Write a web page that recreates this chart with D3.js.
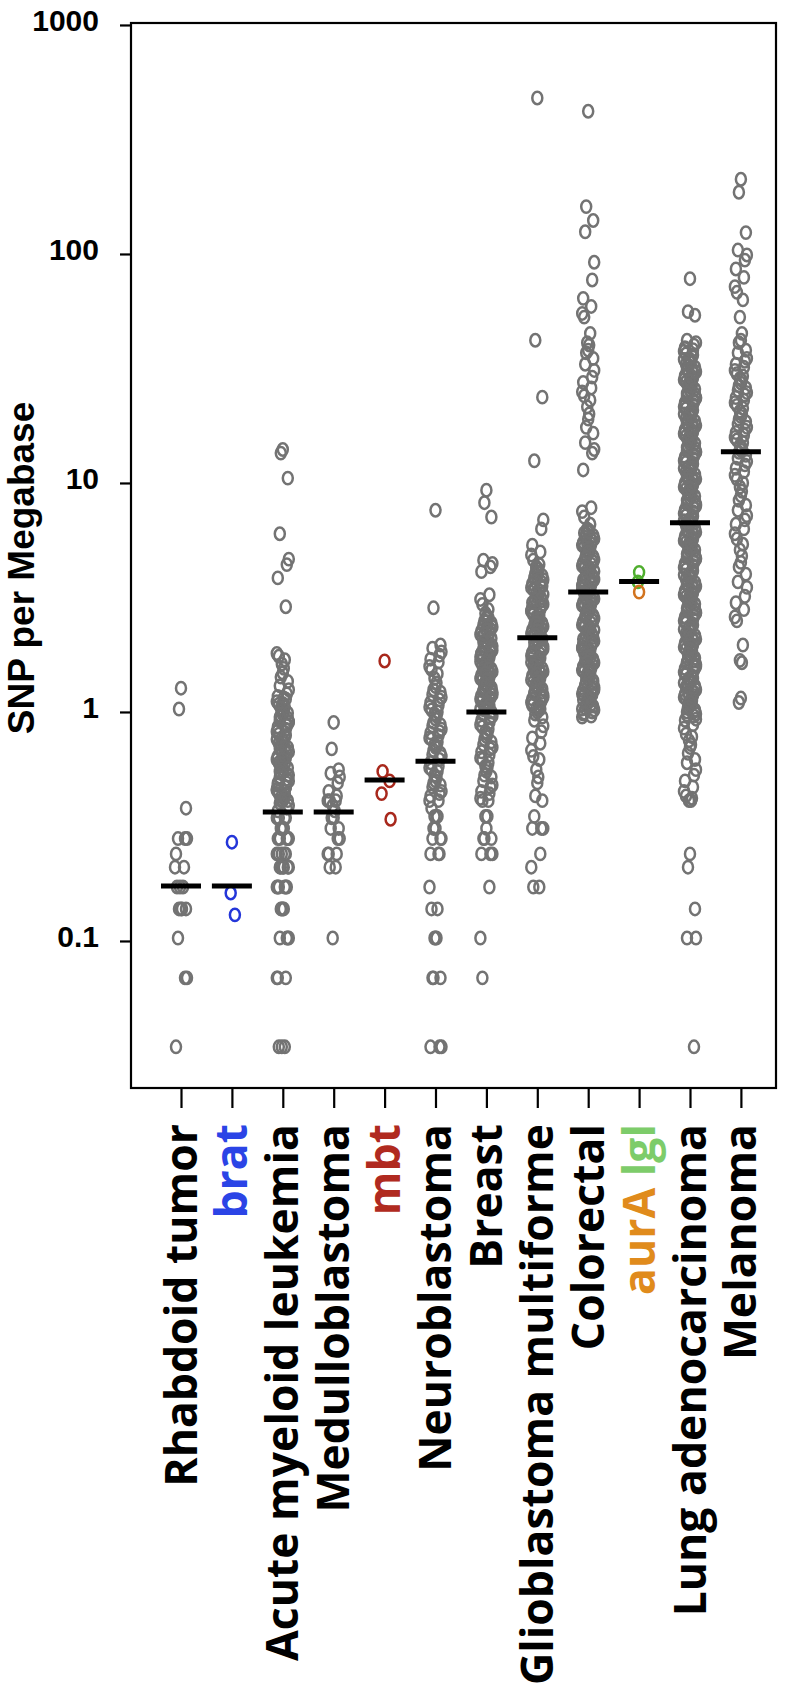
<!DOCTYPE html>
<html><head><meta charset="utf-8">
<script src="https://cdn.jsdelivr.net/npm/d3@7"></script>
<style>body{margin:0;background:#fff}svg{display:block}</style>
</head><body><svg id="c" width="787" height="1692"></svg>
<script>
// ---------- data ----------
const categories = ["Rhabdoid tumor","brat","Acute myeloid leukemia","Medulloblastoma","mbt","Neuroblastoma","Breast","Glioblastoma multiforme","Colorectal","aurA lgl","Lung adenocarcinoma","Melanoma"];
const medians = [0.174,0.174,0.366,0.366,0.505,0.61,1.0,2.11,3.34,3.71,6.7,13.7];
const yTicks = [0.1,1,10,100,1000];
const yTitle = "SNP per Megabase";

const rhabdoid = [1.27,1.03,0.38,0.28,0.28,0.28,0.24,0.21,0.21,0.172,0.172,0.172,0.138,0.138,0.138,0.138,0.103,0.069,0.069,0.0345];
const brat = [0.27,0.162,0.13];
const aml = [14.0,13.5,10.5,6.0,4.65,4.4,3.85,2.88,1.8,1.75,1.69,1.62,1.55,1.48,1.42,1.36,1.3,1.25,
  1.2,1.17,1.14,1.11,1.08,1.05,1.03,1.0,0.98,0.96,0.94,0.92,0.9,0.88,0.86,0.84,0.82,0.8,0.78,0.77,0.75,0.73,0.72,0.7,0.69,0.67,0.66,0.64,0.63,0.62,0.6,0.59,0.58,0.56,0.55,0.54,0.53,0.52,0.5,0.49,0.48,0.47,0.46,0.45,0.44,0.43,0.42,0.41,0.41,0.41,0.4,0.39,0.38,0.37,
  0.345,0.345,0.345,0.345,0.31,0.31,0.31,0.31,0.28,0.28,0.28,0.28,0.28,0.24,0.24,0.24,0.24,0.24,0.21,0.21,0.21,0.21,0.21,0.21,0.172,0.172,0.172,0.172,0.172,0.172,0.138,0.138,0.138,0.138,0.103,0.103,0.103,0.103,0.069,0.069,0.069,0.0345,0.0345,0.0345];
const amlCore = [1.15,1.09,1.04,0.99,0.95,0.91,0.87,0.83,0.79,0.76,0.73,0.7,0.67,0.645,0.62,0.595,0.57,0.55,0.53,0.51,0.49,0.47,0.455,0.44,0.425,0.41];
const medullo = [0.90,0.69,0.56,0.54,0.52,0.49,0.45,0.43,0.41,0.41,0.41,0.39,0.37,0.345,0.345,0.31,0.31,0.28,0.28,0.24,0.24,0.24,0.21,0.21,0.103];
const mbt = [1.67,0.55,0.50,0.44,0.34];
const neuro = [7.6,2.85,1.96,1.9,1.83,1.77,1.7,1.65,1.58,1.53,1.47,1.4,1.34,1.29,1.25,1.22,1.19,1.16,1.13,1.1,1.07,1.05,1.02,1.0,0.98,0.96,0.93,0.9,0.88,0.87,0.84,0.82,0.81,0.79,0.77,0.76,0.74,0.72,0.71,0.7,0.68,0.66,0.65,0.64,0.62,0.6,0.58,0.57,0.56,0.55,0.53,0.52,0.5,0.49,0.48,0.47,0.45,0.44,0.43,0.41,0.41,0.38,0.35,0.35,0.35,0.31,0.31,0.28,0.28,0.28,0.24,0.24,0.24,0.172,0.138,0.138,0.103,0.103,0.103,0.069,0.069,0.069,0.0345,0.0345,0.0345];
const breast = [9.3,8.2,7.1,4.6,4.45,4.3,4.1,3.25,3.1,2.95,2.8,2.7,
  2.62,2.56,2.5,2.45,2.4,2.35,2.3,2.26,2.22,2.18,2.14,2.1,2.06,2.02,1.98,1.95,1.92,1.89,1.86,1.83,1.8,1.77,1.74,1.71,1.68,1.65,1.62,1.6,1.57,1.54,1.52,1.5,1.47,1.45,1.42,1.4,1.38,1.36,1.34,1.32,1.3,1.28,1.26,1.24,1.22,1.2,1.18,1.16,1.14,1.12,1.1,1.08,1.06,1.04,1.02,1.0,
  0.98,0.96,0.94,0.92,0.9,0.88,0.86,0.84,0.82,0.8,0.78,0.76,0.74,0.72,0.7,0.69,0.67,0.65,0.63,0.62,0.6,0.58,0.57,0.55,0.53,0.52,0.5,0.48,0.47,0.45,0.44,0.42,0.41,0.41,
  0.35,0.35,0.31,0.28,0.28,0.28,0.24,0.24,0.24,0.172,0.103,0.069];
const breastCore = [2.58,2.47,2.37,2.28,2.19,2.1,2.02,1.94,1.87,1.8,1.73,1.66,1.6,1.54,1.48,1.43,1.38,1.33,1.28,1.23,1.19,1.15,1.11,1.07,1.03];
const glio = [480,42,23.7,12.5,6.9,6.3,5.35,5.0,4.85,4.6,
  4.4,4.3,4.2,4.1,4.02,3.94,3.86,3.78,3.7,3.63,3.56,3.49,3.42,3.36,3.3,3.24,3.18,3.12,3.06,3.0,2.95,2.9,2.85,2.8,2.75,2.7,2.65,2.6,2.56,2.52,2.48,2.44,2.4,2.36,2.32,2.28,2.24,2.2,2.16,2.12,2.08,2.04,2.0,1.97,1.94,1.91,1.88,1.85,1.82,1.79,1.76,1.73,1.7,1.67,1.64,1.61,1.58,1.55,1.52,1.5,1.47,1.44,1.41,1.38,1.35,1.33,1.31,1.28,1.26,1.24,1.22,1.2,1.18,1.16,1.14,1.12,1.1,1.08,1.06,1.04,1.02,1.0,0.98,0.95,
  0.92,0.87,0.82,0.77,0.73,0.68,0.64,0.62,0.56,0.52,0.49,0.43,0.41,0.35,0.31,0.31,0.31,0.24,0.21,0.172,0.172];
const glioCore = [4.25,4.05,3.88,3.72,3.55,3.4,3.26,3.13,3.0,2.88,2.77,2.66,2.55,2.45,2.35,2.26,2.17,2.09,2.01,1.93,1.86,1.79,1.72,1.65,1.59,1.53,1.47,1.41,1.36,1.31,1.26,1.21,1.16,1.11,1.07,1.03];
const colorectal = [420,161,140,125,92,77,64,59,55,53,45,41,40,38,37,35,33,31,29,27.5,26,25,24,23,21.5,20,19,17.5,16.5,15,14,13.5,11.4,7.8,7.5,7.1,6.6,
  6.3,6.2,6.1,6.0,5.9,5.8,5.7,5.6,5.5,5.42,5.34,5.26,5.18,5.1,5.02,4.94,4.86,4.78,4.7,4.63,4.56,4.49,4.42,4.35,4.28,4.21,4.15,4.09,4.03,3.97,3.91,3.85,3.79,3.73,3.67,3.62,3.57,3.52,3.47,3.42,3.37,3.32,3.27,3.22,3.17,3.12,3.07,3.02,2.97,2.92,2.88,2.84,2.8,2.76,2.72,2.68,2.64,2.6,2.56,2.52,2.48,2.44,2.4,2.36,2.32,2.28,2.24,2.2,2.16,2.12,2.08,2.04,2.0,1.97,1.94,1.91,1.88,1.85,1.82,1.79,1.76,1.73,1.7,1.67,1.64,1.61,1.58,1.55,1.52,1.5,1.48,1.45,1.42,1.39,1.36,1.33,1.3,1.28,1.26,1.24,1.22,1.2,1.18,1.16,1.14,1.12,1.1,1.08,1.06,1.04,1.02,1.0,0.98,0.96,0.95];
const colorectalCore = [6.05,5.75,5.45,5.2,4.98,4.74,4.52,4.31,4.12,3.94,3.77,3.6,3.45,3.3,3.15,3.01,2.87,2.74,2.62,2.5,2.39,2.28,2.18,2.08,1.99,1.9,1.81,1.73,1.65,1.57,1.5,1.43,1.37,1.31,1.25,1.19,1.13,1.08,1.03,0.99];
const lgl = [4.07,3.7];
const aurA = [3.34];
const lung = [78,56,54,42,41,
  40,39,38.2,37.5,36.6,35.8,35,34.2,33.5,32.8,32,31.3,30.6,30,29.4,28.8,28.2,27.6,27,26.5,26,25.4,24.9,24.4,23.9,23.4,22.9,22.4,22,21.5,21.1,20.6,20.2,19.8,19.4,19,18.6,18.2,17.8,17.4,17.1,16.7,16.4,16,15.7,15.4,15.1,14.8,14.5,14.2,13.9,13.6,13.3,13,12.8,12.5,12.3,12,11.8,11.5,11.3,11.1,10.9,10.6,10.4,10.2,10,
  9.8,9.6,9.4,9.2,9.0,8.8,8.6,8.45,8.3,8.1,7.95,7.8,7.65,7.5,7.35,7.2,7.05,6.9,6.75,6.6,6.5,6.35,6.2,6.1,5.95,5.85,5.7,5.6,5.5,5.35,5.25,5.15,5.05,4.95,4.85,4.75,4.65,4.55,4.45,4.36,4.27,4.18,4.1,4.0,3.92,3.84,3.76,3.68,3.6,3.53,3.46,3.39,3.32,3.25,3.18,3.12,3.06,3.0,2.94,2.88,2.82,2.76,2.7,2.65,2.6,2.55,2.5,
  2.45,2.4,2.35,2.3,2.25,2.2,2.16,2.12,2.08,2.04,2.0,1.96,1.92,1.88,1.84,1.8,1.76,1.73,1.7,1.67,1.64,1.61,1.58,1.55,1.52,1.49,1.46,1.43,1.4,1.37,1.34,1.32,1.3,1.28,1.25,1.22,1.2,1.18,1.16,1.14,1.12,1.1,1.08,1.06,1.04,1.02,1.0,0.98,0.96,
  0.92,0.88,0.85,0.8,0.78,0.75,0.72,0.7,0.66,0.62,0.6,0.56,0.53,0.5,0.47,0.45,0.43,0.42,0.41,0.41,0.24,0.21,0.138,0.103,0.103,0.0345];
const lungCore = [38.6,36.2,34.6,33.1,31.6,30.3,29.1,27.9,26.8,25.7,24.6,23.6,22.6,21.7,20.8,20,19.2,18.4,17.6,16.9,16.2,15.5,14.9,14.3,13.7,13.1,12.6,12.1,11.6,11.2,10.7,10.3,9.9,9.5,9.1,8.75,8.4,8.05,7.75,7.45,7.15,6.85,6.55,6.3,6.05,5.8,5.55,5.32,5.1,4.9,4.7,4.5,4.32,4.14,3.97,3.8,3.65,3.5,3.36,3.22,3.09,2.96,2.84,2.72,2.61,2.5,2.4,2.3,2.21,2.12,2.03,1.95,1.87,1.79,1.72,1.65,1.58,1.52,1.46,1.4,1.34,1.29,1.24,1.19,1.14,1.1,1.05,1.01,0.97,0.93];
const melanoma = [212,186,124,104,99,94,86,79,72,68,63,53,45,42,41,38,37,35,34,33,32,31,30,29.3,28.6,28,27.3,26.6,26,25.4,24.8,24.2,23.6,23,22.4,21.8,21.2,20.6,20,19.5,19,18.5,18,17.5,17,16.6,16.2,15.8,15.4,15,14.6,14.2,13.9,13.6,13.2,12.8,12.4,12,11.6,11.2,10.8,10.4,10,9.6,9.2,8.8,8.4,8,7.6,7.2,6.9,6.6,6.3,6.0,5.7,5.4,5.1,4.8,4.5,4.3,4.0,3.7,3.5,3.2,3.0,2.8,2.6,2.5,1.96,1.68,1.64,1.15,1.1];

// label pieces (text, colour key)
const labelParts = [
  [["Rhabdoid tumor","k"]],[["brat","blue"]],[["Acute myeloid leukemia","k"]],[["Medulloblastoma","k"]],
  [["mbt","red"]],[["Neuroblastoma","k"]],[["Breast","k"]],[["Glioblastoma multiforme","k"]],
  [["Colorectal","k"]],[["aurA ","orange"],["lgl","green"]],[["Lung adenocarcinoma","k"]],[["Melanoma","k"]]
];

// ---------- style ----------
const pointColor = {gray:"#737373", blue:"#2436d9", red:"#a8281c", green:"#4fae2e", orange:"#d2731e"};
const labelColor = {k:"#000", blue:"#2b44e6", red:"#b02a20", green:"#7dcc6a", orange:"#e08b1c"};
const series = [
  {cat:categories[0], values:rhabdoid, c:"gray"},
  {cat:categories[1], values:brat, c:"blue"},
  {cat:categories[2], values:aml.concat(amlCore), c:"gray"},
  {cat:categories[3], values:medullo, c:"gray"},
  {cat:categories[4], values:mbt, c:"red"},
  {cat:categories[5], values:neuro, c:"gray"},
  {cat:categories[6], values:breast.concat(breastCore), c:"gray"},
  {cat:categories[7], values:glio.concat(glioCore), c:"gray"},
  {cat:categories[8], values:colorectal.concat(colorectalCore), c:"gray"},
  {cat:categories[9], values:lgl, c:"green"},
  {cat:categories[9], values:aurA, c:"orange"},
  {cat:categories[10], values:lung.concat(lungCore), c:"gray"},
  {cat:categories[11], values:melanoma, c:"gray"}
];
const jit = [0,-4,4,-2,2,-5,5,-1,3,-3,1,-6,6];

const svg = d3.select("#c");
svg.append("rect").attr("width",787).attr("height",1692).attr("fill","#fff");
const L=131, R=776, T=23, B=1088;

const x = d3.scalePoint().domain(categories).range([L,R]).padding(0.836).align(0.5875);
const y = d3.scaleLog().domain([0.0228,1020]).range([B,T]);

// points
const gp = svg.append("g");
series.forEach(s=>{
  gp.selectAll(null).data(s.values).enter().append("ellipse")
    .attr("cx",(d,i)=>x(s.cat)+jit[(i*3)%jit.length]*(s.values.length>3?1:0.6))
    .attr("cy",d=>y(d))
    .attr("rx",5).attr("ry",6.2)
    .attr("fill","none").attr("stroke",pointColor[s.c]).attr("stroke-width",2.5);
});

// medians
svg.append("g").selectAll("line").data(categories).enter().append("line")
  .attr("x1",d=>x(d)-20).attr("x2",d=>x(d)+20)
  .attr("y1",(d,i)=>y(medians[i])).attr("y2",(d,i)=>y(medians[i]))
  .attr("stroke","#000").attr("stroke-width",5);

// frame
svg.append("rect").attr("x",L).attr("y",T).attr("width",R-L).attr("height",B-T)
  .attr("fill","none").attr("stroke","#000").attr("stroke-width",2.2);

// y axis
const ya = svg.append("g").attr("transform",`translate(${L},0)`)
  .call(d3.axisLeft(y).tickValues(yTicks).tickFormat(d3.format("~g")).tickSize(11).tickPadding(21));
ya.select(".domain").remove();
ya.selectAll("line").attr("stroke","#000").attr("stroke-width",2.2);
ya.selectAll("text").attr("font-family","Liberation Sans, Arial, sans-serif").attr("font-weight","bold")
  .attr("font-size",30).attr("fill","#000").attr("dy","0.2em");

// x axis ticks
const xa = svg.append("g").attr("transform",`translate(0,${B})`)
  .call(d3.axisBottom(x).tickSize(20).tickFormat(""));
xa.select(".domain").remove();
xa.selectAll("line").attr("stroke","#000").attr("stroke-width",2.2);

// x labels
const gl = svg.append("g");
categories.forEach((c,i)=>{
  const t = gl.append("text")
    .attr("transform",`translate(${x(c)},1124) rotate(-90)`)
    .attr("text-anchor","end").attr("dy","0.35em")
    .attr("font-family","Open Sans, sans-serif").attr("font-weight",700).attr("font-size",44.5);
  labelParts[i].forEach(p=>t.append("tspan").attr("fill",labelColor[p[1]]).text(p[0]));
});

// y title
svg.append("text").attr("transform","translate(34,568) rotate(-90)")
  .attr("text-anchor","middle").attr("font-family","Liberation Sans, Arial, sans-serif")
  .attr("font-weight","bold").attr("font-size",37).text(yTitle);
</script></body></html>
